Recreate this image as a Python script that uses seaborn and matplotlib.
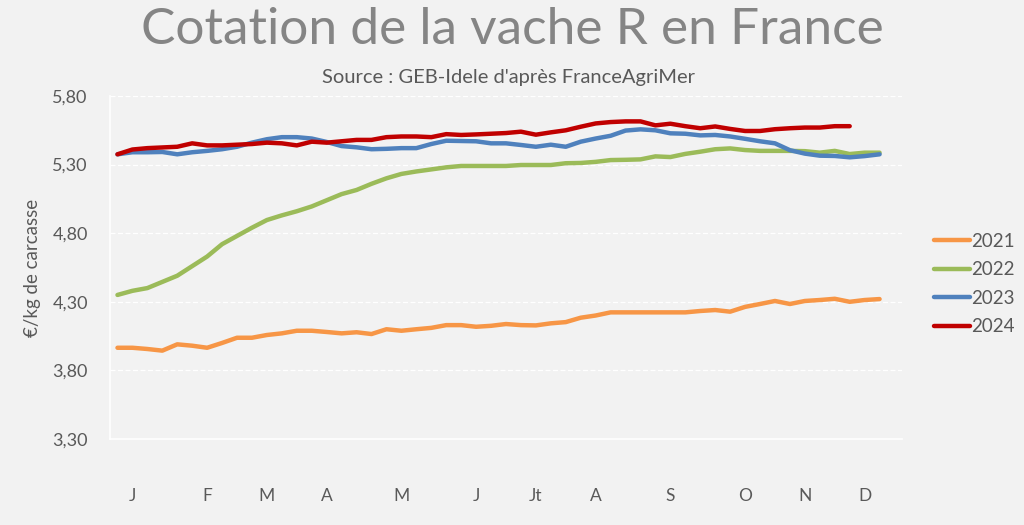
import numpy as np
import pandas as pd
import matplotlib
matplotlib.use("Agg")
import matplotlib.pyplot as plt
import seaborn as sns
from matplotlib.lines import Line2D

# ---- data (weekly quotations, €/kg carcass) ----
y2021 = [3.965, 3.965, 3.956, 3.944, 3.99, 3.98, 3.965, 4.00, 4.038, 4.038,
         4.058, 4.07, 4.089, 4.089, 4.08, 4.07, 4.078, 4.065, 4.10, 4.089,
         4.10, 4.11, 4.13, 4.13, 4.118, 4.125, 4.138, 4.13, 4.128, 4.143,
         4.152, 4.184, 4.20, 4.223, 4.223, 4.223, 4.223, 4.223, 4.223, 4.233,
         4.24, 4.228, 4.263, 4.284, 4.306, 4.284, 4.306, 4.313, 4.322, 4.30,
         4.313, 4.32]
y2022 = [4.35, 4.38, 4.40, 4.445, 4.49, 4.56, 4.63, 4.72, 4.78, 4.84,
         4.896, 4.93, 4.96, 4.995, 5.04, 5.085, 5.115, 5.16, 5.20, 5.232,
         5.25, 5.265, 5.28, 5.29, 5.29, 5.29, 5.29, 5.297, 5.297, 5.297,
         5.31, 5.312, 5.32, 5.333, 5.335, 5.338, 5.36, 5.355, 5.378, 5.394,
         5.412, 5.418, 5.406, 5.40, 5.40, 5.40, 5.398, 5.387, 5.40, 5.377,
         5.387, 5.387]
y2023 = [5.375, 5.39, 5.39, 5.392, 5.375, 5.39, 5.40, 5.412, 5.43, 5.46,
         5.485, 5.50, 5.50, 5.49, 5.465, 5.435, 5.426, 5.412, 5.415, 5.42,
         5.42, 5.45, 5.474, 5.472, 5.47, 5.455, 5.455, 5.443, 5.43, 5.445,
         5.43, 5.467, 5.49, 5.51, 5.548, 5.557, 5.55, 5.528, 5.525, 5.513,
         5.516, 5.505, 5.488, 5.47, 5.455, 5.405, 5.38, 5.365, 5.363, 5.353,
         5.362, 5.375]
y2024 = [5.375, 5.41, 5.42, 5.425, 5.43, 5.455, 5.44, 5.44, 5.445, 5.45,
         5.46, 5.455, 5.44, 5.467, 5.46, 5.47, 5.48, 5.48, 5.50, 5.505,
         5.505, 5.50, 5.522, 5.516, 5.52, 5.525, 5.53, 5.54, 5.518, 5.535,
         5.55, 5.576, 5.60, 5.61, 5.615, 5.615, 5.586, 5.598, 5.58, 5.565,
         5.578, 5.56, 5.545, 5.545, 5.558, 5.565, 5.57, 5.57, 5.58, 5.58]

years = ["2021", "2022", "2023", "2024"]
series = [y2021, y2022, y2023, y2024]
colors = ["#F79646", "#9BBB59", "#4F81BD", "#C00000"]

month_labels = ["J", "F", "M", "A", "M", "J", "Jt", "A", "S", "O", "N", "D"]
month_weeks = [2, 7, 11, 15, 20, 25, 29, 33, 38, 43, 47, 51]
n_weeks = 53

y_ticks = [3.30, 3.80, 4.30, 4.80, 5.30, 5.80]

rows = []
for yr, vals in zip(years, series):
    for i, v in enumerate(vals):
        rows.append({"week": i + 1, "value": v, "year": yr})
df = pd.DataFrame(rows)

# ---- style ----
bg = "#F2F2F2"
txt = "#595959"
sns.set_style("white")
plt.rcParams["font.family"] = ["Lato", "DejaVu Sans"]

fig = plt.figure(figsize=(10.24, 5.25), dpi=100, facecolor=bg)
ax = fig.add_axes([110 / 1024, 1 - 439 / 525, 792 / 1024, 343 / 525])
ax.set_facecolor(bg)

sns.lineplot(data=df, x="week", y="value", hue="year", palette=colors,
             linewidth=3.2, ax=ax, legend=False, solid_capstyle="round")

ax.set_xlim(0.5, n_weeks + 0.5)
ax.set_ylim(3.30, 5.80)
ax.set_yticks(y_ticks)
ax.set_yticklabels([f"{t:.2f}".replace(".", ",") for t in y_ticks],
                   color=txt, fontsize=13)
ax.tick_params(axis="y", length=0, pad=16)

ax.set_xticks(month_weeks)
ax.set_xticklabels(month_labels, color=txt, fontsize=12.5)
ax.set_xticks(np.arange(0.5, n_weeks + 1, 1.0), minor=True)
ax.tick_params(axis="x", which="major", length=0, pad=35)
ax.tick_params(axis="x", which="minor", length=6, width=1, color="white")

ax.yaxis.grid(True, color="white", linestyle=(0, (4, 2)), linewidth=0.9)
ax.set_axisbelow(True)
for s in ["top", "right"]:
    ax.spines[s].set_visible(False)
for s in ["left", "bottom"]:
    ax.spines[s].set_color("white")
    ax.spines[s].set_linewidth(1.2)

ax.set_xlabel("")
ax.set_ylabel("€/kg de carcasse", color=txt, fontsize=13.5, labelpad=8)

# legend
handles = [Line2D([0], [0], color=c, linewidth=3.2) for c in colors]
leg = fig.legend(handles, years, loc="center left",
                 bbox_to_anchor=(917 / 1024, 1 - 284 / 525), frameon=False,
                 fontsize=13.5, handlelength=1.9, handletextpad=0.1,
                 labelspacing=0.62, labelcolor=txt)

# titles
fig.text(0.5, 1 - 30 / 525, "Cotation de la vache R en France",
         ha="center", va="center", fontsize=37, color="#858585",
         fontweight="normal")
fig.text(0.497, 1 - 77 / 525, "Source : GEB-Idele d'après FranceAgriMer",
         ha="center", va="center", fontsize=14.5, color=txt)

fig.savefig("out.png", dpi=100, facecolor=bg)
